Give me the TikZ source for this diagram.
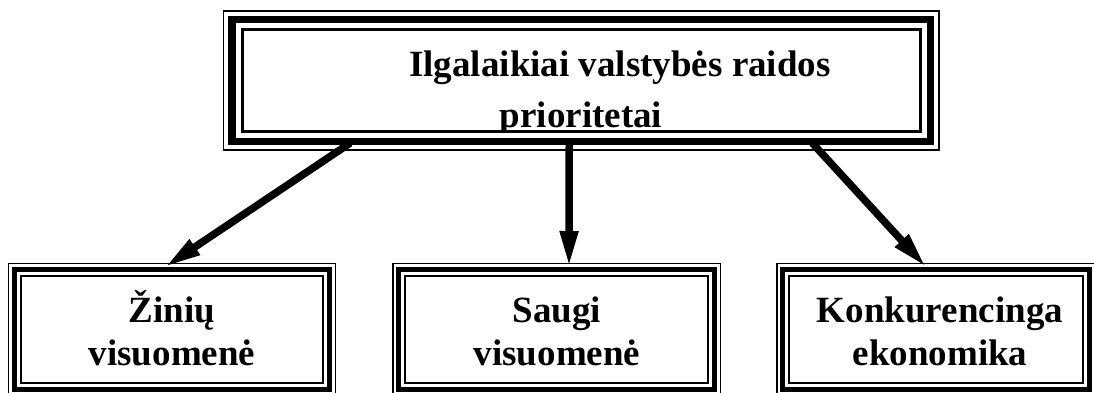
\documentclass[tikz,border=0pt]{standalone}
\usepackage{fontspec}
\setmainfont{Liberation Serif}
\usetikzlibrary{arrows.meta}
\begin{document}
\begin{tikzpicture}[x=1pt,y=-1pt,
  % triple frame: thin outer line, thick middle line, thin inner line
  bigframe/.style={rectangle, draw, line width=1.5pt, inner sep=0pt, outer sep=0pt,
    path picture={
      \draw[line width=7.5pt]
        ([xshift=8.5pt,yshift=-8.5pt]path picture bounding box.north west) rectangle
        ([xshift=-8.5pt,yshift=8.5pt]path picture bounding box.south east);
      \draw[line width=3pt]
        ([xshift=18.5pt,yshift=-18.5pt]path picture bounding box.north west) rectangle
        ([xshift=-18.5pt,yshift=18.5pt]path picture bounding box.south east);
    }},
  smallframe/.style={rectangle, draw, line width=1.3pt, inner sep=0pt, outer sep=0pt,
    path picture={
      \draw[line width=4.8pt]
        ([xshift=5.8pt,yshift=-5.8pt]path picture bounding box.north west) rectangle
        ([xshift=-5.8pt,yshift=5.8pt]path picture bounding box.south east);
      \draw[line width=1.8pt]
        ([xshift=12.3pt,yshift=-12.3pt]path picture bounding box.north west) rectangle
        ([xshift=-12.3pt,yshift=12.3pt]path picture bounding box.south east);
    }},
  lbl/.style={font=\bfseries\fontsize{37}{42}\selectfont, inner sep=0pt, anchor=base},
  arr/.style={line width=7.5pt, -{Triangle[length=36pt,width=17pt]}}
]
\useasboundingbox (0,0) rectangle (1094,392);
\fill[white] (0,0) rectangle (1094,392);
\clip (0,0) rectangle (1094,392);

% title text, cut off at the inner frame line
\begin{scope}
  \clip (242,30) rectangle (920,130.5);
  \node[lbl] (t1) at (620,76) {Ilgalaikiai valstybės raidos};
  \node[lbl] (t2) at (581,127) {prioritetai};
\end{scope}

% boxes
\node[bigframe, minimum width=715.5pt, minimum height=139pt] (top) at (581.25,80.5) {};
\node[smallframe, minimum width=327pt, minimum height=132pt] (zin) at (172,329.5) {};
\node[smallframe, minimum width=327.5pt, minimum height=132pt] (saug) at (556.75,329.5) {};
\node[smallframe, minimum width=318.5pt, minimum height=132pt] (konk) at (936.25,329.5) {};

% box texts
\node[lbl] (z1) at (172,322) {Žinių};
\node[lbl] (z2) at (172,365) {visuomenė};
\node[lbl] (s1) at (557,322) {Saugi};
\node[lbl] (s2) at (557,365) {visuomenė};
\node[lbl] (k1) at (940,322) {Konkurencinga};
\node[lbl] (k2) at (940,365) {ekonomika};

% connectors
\draw[arr] ([xshift=-231pt,yshift=7pt]top.south) -- ([xshift=-7pt,yshift=-3.5pt]zin.north);
\draw[arr] ([xshift=-12pt,yshift=7pt]top.south) -- ([xshift=12.25pt,yshift=-3.5pt]saug.north);
\draw[arr] ([xshift=231pt,yshift=7pt]top.south) -- ([xshift=-10.25pt,yshift=-3.5pt]konk.north);
\end{tikzpicture}
\end{document}
